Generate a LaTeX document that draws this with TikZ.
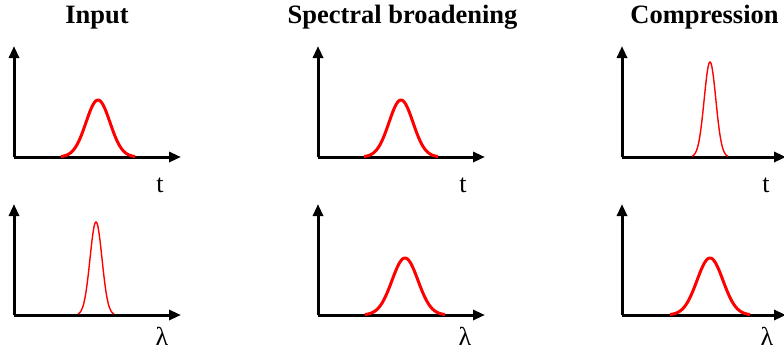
\documentclass[tikz,border=0pt]{standalone}
\usepackage{fontspec}
\setmainfont{Liberation Serif}
\usetikzlibrary{arrows.meta}
\tikzset{
  axis/.style={line width=3pt, -{Triangle[length=12pt,width=10pt]}},
  wide/.style={red, line width=3pt},
  narrow/.style={red, line width=1.4pt},
  title/.style={font=\fontsize{26.5}{30}\selectfont\bfseries, anchor=base},
  lbl/.style={font=\fontsize{26}{30}\selectfont, anchor=base}
}
\begin{document}
\begin{tikzpicture}[x=1pt,y=-1pt]
\useasboundingbox (0,0) rectangle (784,354);
% titles
\node[title] (t1) at (97,23) {Input};
\node[title] (t2) at (402.5,23) {Spectral broadening};
\node[title] (t3) at (704.5,23) {Compression};
% axes origins and tips
\foreach \n/\ox/\oy/\xe/\ye in {a/14/157/181/46, b/318/157/485/46, c/622/157/786/46,
                                d/14/315/181/204, e/318/315/485/204, f/622/315/786/204}{
  \coordinate (\n o) at (\ox,\oy);
  \coordinate (\n x) at (\xe,\oy);
  \coordinate (\n y) at (\ox,\ye);
  \draw[axis] (\n o) -- (\n x);
  \draw[axis] (\n o) -- (\n y);
}
% pulses
\draw[wide] plot[domain=-37:37, samples=90] ({98+\x},{157-57*exp(-(\x*\x)/(2*144))});
\draw[wide] plot[domain=-37:37, samples=90] ({401+\x},{157-57*exp(-(\x*\x)/(2*144))});
\draw[narrow] plot[domain=-18:18, samples=90] ({710+\x},{157-95*exp(-(\x*\x)/(2*34))});
\draw[narrow] plot[domain=-18:18, samples=90] ({96+\x},{315-93*exp(-(\x*\x)/(2*36))});
\draw[wide] plot[domain=-40:40, samples=90] ({405+\x},{315-57*exp(-(\x*\x)/(2*169))});
\draw[wide] plot[domain=-40:40, samples=90] ({710+\x},{315-57*exp(-(\x*\x)/(2*169))});
% axis labels
\node[lbl] (l1) at (160,192) {t};
\node[lbl] (l2) at (463,192) {t};
\node[lbl] (l3) at (766,192) {t};
\node[lbl] (l4) at (162,345) {λ};
\node[lbl] (l5) at (465,345) {λ};
\node[lbl] (l6) at (767,345) {λ};
\end{tikzpicture}
\end{document}
